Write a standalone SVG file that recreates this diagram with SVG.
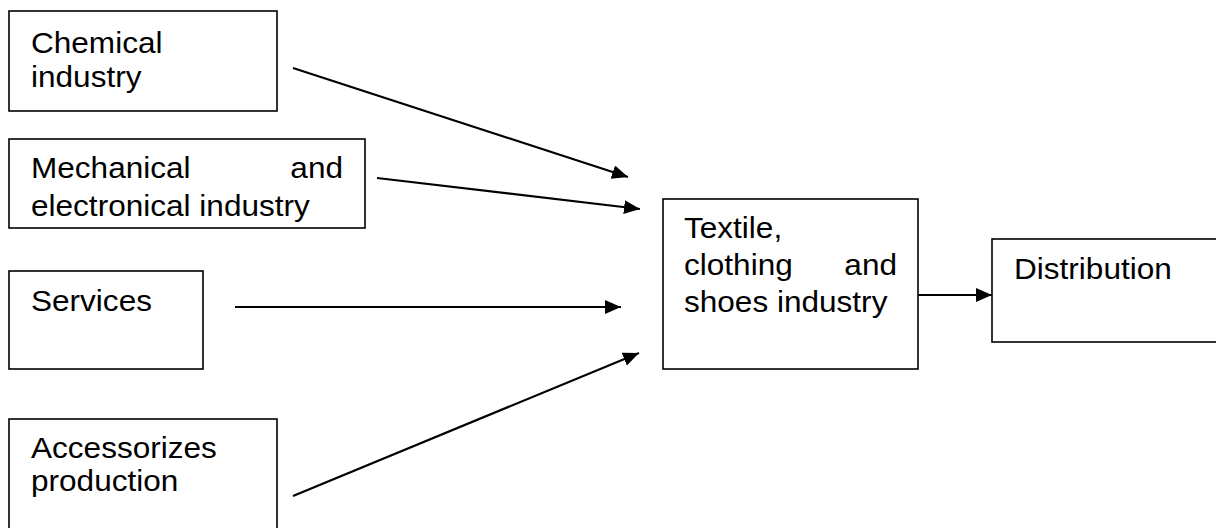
<svg xmlns="http://www.w3.org/2000/svg" width="1216" height="528" viewBox="0 0 1216 528">
<style>
.box{fill:#fff;stroke:#000;stroke-width:1.6}
.t{font-family:"Liberation Sans",Arial,sans-serif;font-size:29.5px;fill:#000}
.c{stroke:#000;stroke-width:2.2;fill:none;marker-end:url(#ah)}
</style>
<defs>
<marker id="ah" markerUnits="userSpaceOnUse" markerWidth="16" markerHeight="14" refX="16" refY="7" orient="auto">
<path d="M0,0 L16,7 L0,14 Z" fill="#000"/>
</marker>
<clipPath id="mclip"><rect x="9" y="139" width="356" height="83"/></clipPath>
</defs>
<rect width="1216" height="528" fill="#fff"/>
<g id="chemical">
<rect class="box" x="9" y="11" width="268" height="100"/>
<text class="t" transform="translate(31,53) scale(1.07,1)">Chemical</text>
<text class="t" transform="translate(31,87) scale(1.07,1)">industry</text>
</g>
<g id="mechanical">
<rect class="box" x="9" y="139" width="356" height="89"/>
<g clip-path="url(#mclip)">
<text class="t" transform="translate(31,178) scale(1.07,1)">Mechanical</text>
<text class="t" text-anchor="end" transform="translate(343,178) scale(1.07,1)">and</text>
<text class="t" transform="translate(31,216) scale(1.07,1)">electronical industry</text>
</g>
</g>
<g id="services">
<rect class="box" x="9" y="271" width="194" height="98"/>
<text class="t" transform="translate(31,311) scale(1.07,1)">Services</text>
</g>
<g id="accessorizes">
<rect class="box" x="9" y="419" width="268" height="120"/>
<text class="t" transform="translate(31,458) scale(1.07,1)">Accessorizes</text>
<text class="t" transform="translate(31,491) scale(1.07,1)">production</text>
</g>
<g id="textile">
<rect class="box" x="663" y="199" width="255" height="170"/>
<text class="t" transform="translate(684,238) scale(1.07,1)">Textile,</text>
<text class="t" transform="translate(684,275) scale(1.07,1)">clothing</text>
<text class="t" text-anchor="end" transform="translate(897,275) scale(1.07,1)">and</text>
<text class="t" transform="translate(684,312) scale(1.07,1)">shoes industry</text>
</g>
<g id="distribution">
<rect class="box" x="992" y="239" width="230" height="103"/>
<text class="t" transform="translate(1014,279) scale(1.07,1)">Distribution</text>
</g>
<g id="connectors">
<line class="c" x1="293" y1="68" x2="628" y2="177"/>
<line class="c" x1="377" y1="178" x2="640" y2="209"/>
<line class="c" x1="235" y1="307" x2="621" y2="307"/>
<line class="c" x1="293" y1="496" x2="639" y2="353"/>
<line class="c" x1="918" y1="295" x2="992" y2="295"/>
</g>
</svg>
